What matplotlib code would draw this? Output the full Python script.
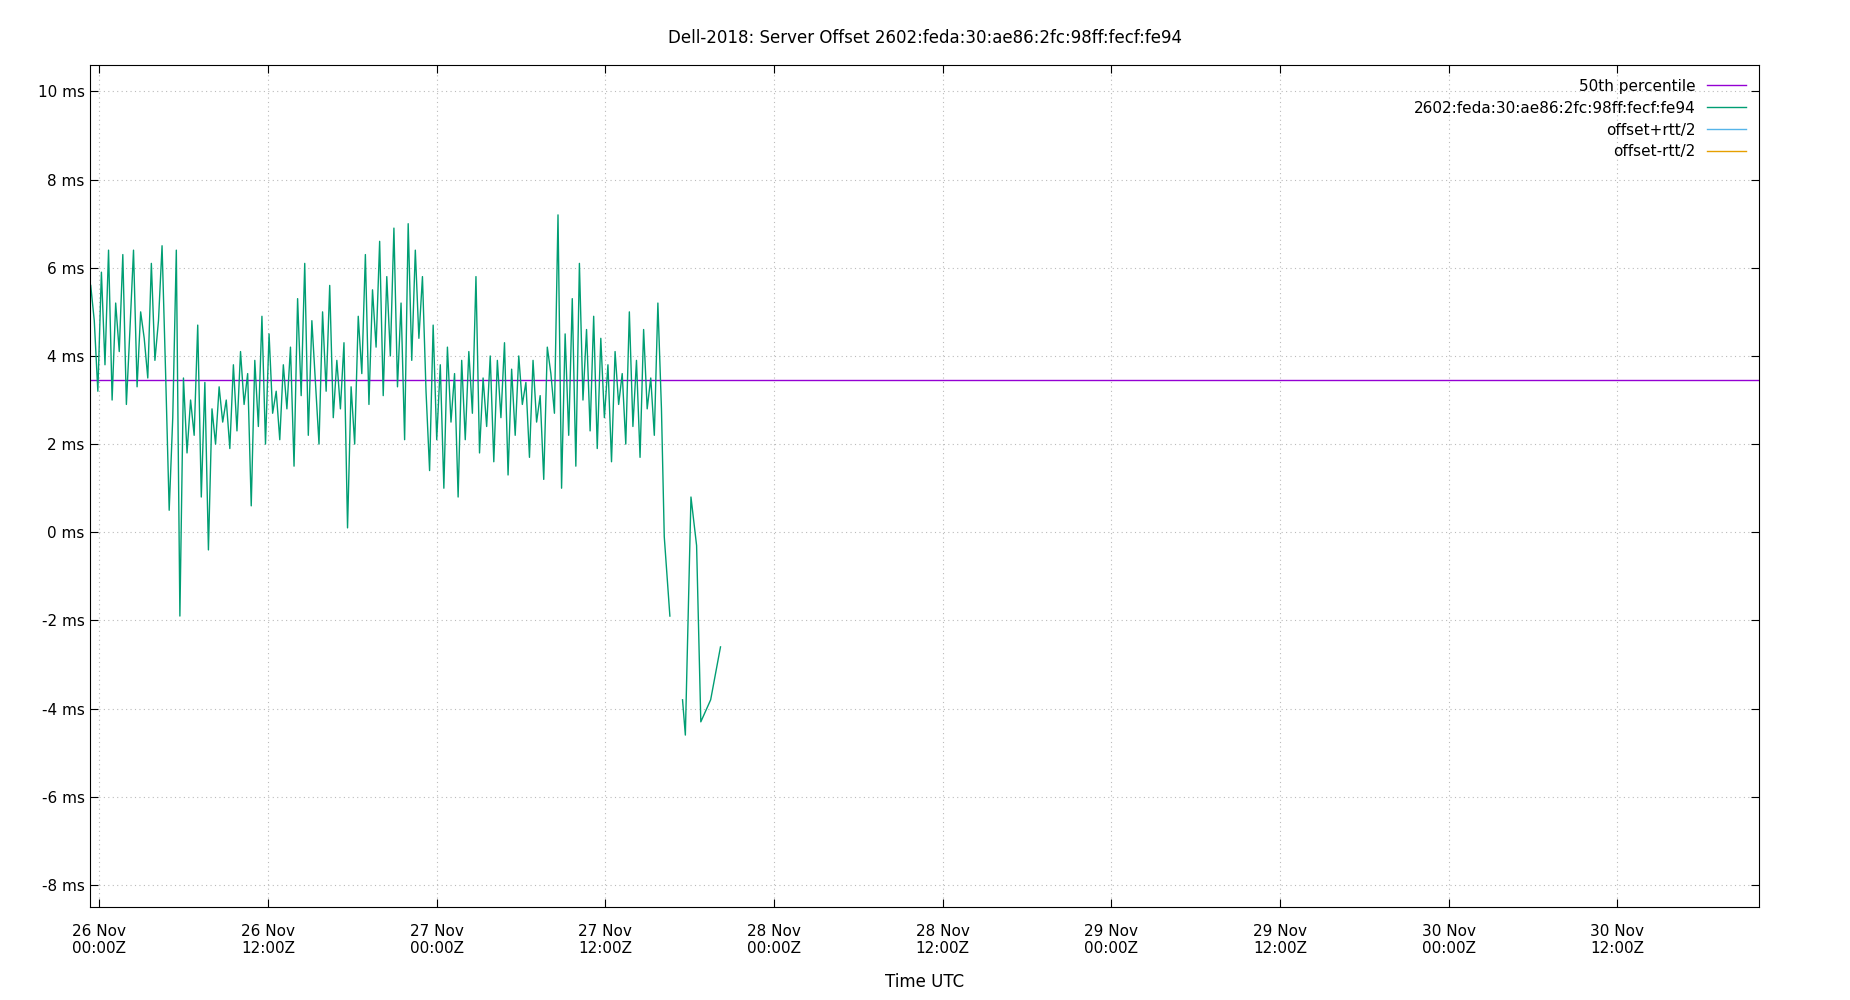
import numpy as np
import matplotlib
matplotlib.use("Agg")
import matplotlib.pyplot as plt
import matplotlib.dates as mdates
from datetime import datetime, timedelta

title = "Dell-2018: Server Offset 2602:feda:30:ae86:2fc:98ff:fecf:fe94"
median_ms = 3.45
main_vals = [
 5.6,4.8,3.2,5.9,3.8,6.4,3.0,5.2,4.1,6.3,2.9,4.6,6.4,3.3,5.0,4.4,3.5,6.1,3.9,4.8,
 6.5,3.6,0.5,2.6,6.4,-1.9,3.5,1.8,3.0,2.2,4.7,0.8,3.4,-0.4,2.8,2.0,3.3,2.5,3.0,1.9,
 3.8,2.3,4.1,2.9,3.6,0.6,3.9,2.4,4.9,2.0,4.5,2.7,3.2,2.1,3.8,2.8,4.2,1.5,5.3,3.1,
 6.1,2.2,4.8,3.4,2.0,5.0,3.2,5.6,2.6,3.9,2.8,4.3,0.1,3.3,2.0,4.9,3.6,6.3,2.9,5.5,
 4.2,6.6,3.1,5.8,4.0,6.9,3.3,5.2,2.1,7.0,3.9,6.4,4.4,5.8,3.2,1.4,4.7,2.1,3.8,1.0,
 4.2,2.5,3.6,0.8,3.9,2.1,4.1,2.7,5.8,1.8,3.5,2.4,4.0,1.6,3.9,2.6,4.3,1.3,3.7,2.2,
 4.0,2.9,3.4,1.7,3.9,2.5,3.1,1.2,4.2,3.6,2.7,7.2,1.0,4.5,2.2,5.3,1.5,6.1,3.0,4.6,
 2.3,4.9,1.9,4.4,2.6,3.8,1.6,4.1,2.9,3.6,2.0,5.0,2.4,3.9,1.7,4.6,2.8,3.5,2.2,5.2,
 2.8,
]
main_start_h = -0.6
main_end_h = 40.0
tail_h = [40.2, 40.6, None, 41.5, 41.7, 42.1, 42.5, 42.8, 43.5, 44.2]
tail_vals = [-0.1, -1.9, None, -3.8, -4.6, 0.8, -0.3, -4.3, -3.8, -2.6]

t0 = datetime(2018, 11, 26)
main_h = np.linspace(main_start_h, main_end_h, len(main_vals))
times = [t0 + timedelta(hours=float(h)) for h in main_h]
vals = list(main_vals)
for h, v in zip(tail_h, tail_vals):
    if h is None:
        times.append(times[-1] + timedelta(minutes=1)); vals.append(np.nan)
    else:
        times.append(t0 + timedelta(hours=h)); vals.append(v)

fig = plt.figure(figsize=(18.5, 10), dpi=100)
ax = fig.add_axes([0.0485, 0.093, 0.9025, 0.842])
xmin = t0 - timedelta(hours=0.67)
xmax = t0 + timedelta(hours=118.1)
ax.axhline(median_ms, color="#9400d3", lw=1, label="50th percentile")
ax.plot(times, vals, color="#009e73", lw=1, label="2602:feda:30:ae86:2fc:98ff:fecf:fe94")
ax.plot([], [], color="#56b4e9", lw=1, label="offset+rtt/2")
ax.plot([], [], color="#e69f00", lw=1, label="offset-rtt/2")
ax.set_xlim(xmin, xmax)
ax.set_ylim(-8.5, 10.6)
ax.set_yticks(range(-8, 11, 2))
ax.set_yticklabels([f"{v} ms" for v in range(-8, 11, 2)])
ax.xaxis.set_major_locator(mdates.HourLocator(byhour=[0, 12]))
ax.xaxis.set_major_formatter(mdates.DateFormatter("%d %b\n%H:%MZ"))
ax.tick_params(direction="in", top=True, right=True, labelsize=11, length=6)
ax.tick_params(axis="x", pad=12)
ax.grid(True, linestyle=(0, (1, 3)), color="#bbbbbb", lw=0.8)
ax.set_xlabel("Time UTC", fontsize=12, labelpad=12)
ax.set_title(title, fontsize=12, pad=16)
ax.legend(loc="upper right", markerfirst=False, frameon=False, fontsize=11,
          handlelength=2.5, labelspacing=0.45)
fig.savefig("out.png")
